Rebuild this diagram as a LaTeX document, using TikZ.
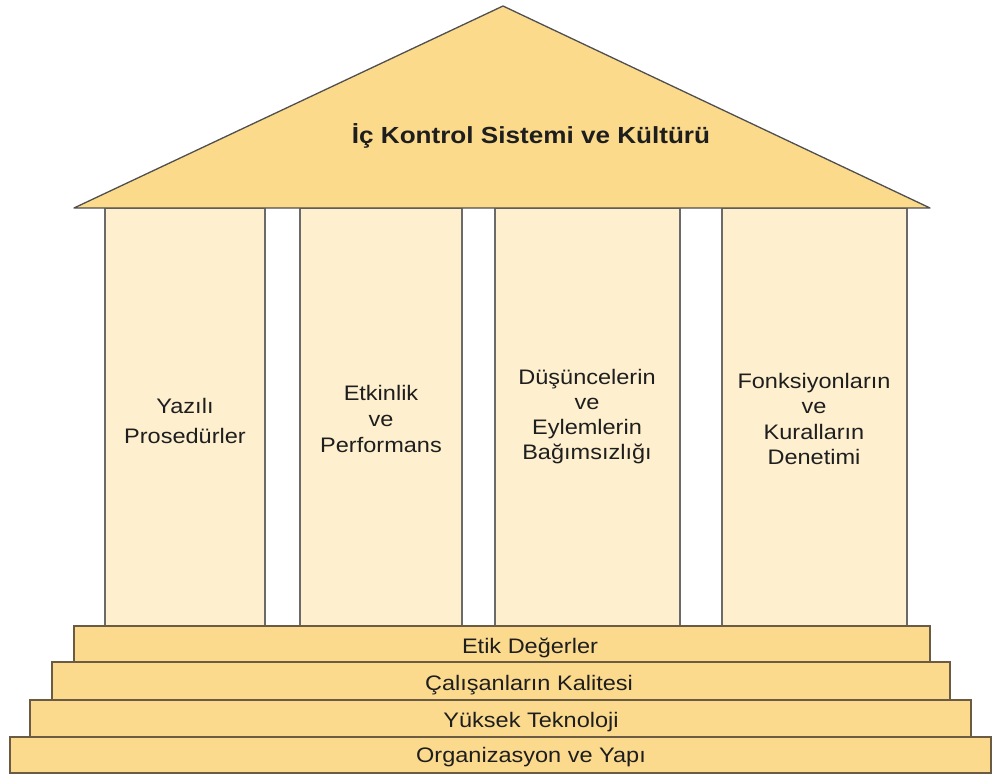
\documentclass[tikz,border=0pt]{standalone}
\usepackage{fontspec}
\setmainfont{Liberation Sans}[FakeStretch=1.12]
\definecolor{roofgold}{HTML}{FBDA8B}
\definecolor{pillarcream}{HTML}{FEF0CE}
\definecolor{stepgold}{HTML}{FBDA8E}
\definecolor{roofedge}{HTML}{4F4F4F}
\definecolor{pillaredge}{HTML}{6A6A6A}
\definecolor{stepedge}{HTML}{6B5B42}
\definecolor{inktext}{HTML}{1E1E1E}
\begin{document}
\begin{tikzpicture}[x=1pt,y=-1pt,
  roof/.style={fill=roofgold,draw=roofedge,line width=1.3pt,line join=round},
  pillar/.style={fill=pillarcream,draw=pillaredge,line width=1.6pt},
  stair/.style={fill=stepgold,draw=stepedge,line width=1.6pt},
  titletext/.style={font=\bfseries\fontsize{23.3}{28}\selectfont,text=inktext,inner sep=0pt},
  pillartext/.style={align=center,text=inktext,inner sep=0pt},
  stairtext/.style={font=\fontsize{21}{25}\selectfont,text=inktext,inner sep=0pt,anchor=base}]
\useasboundingbox (0,0) rectangle (993,776);
\fill[white] (0,0) rectangle (993,776);

% pillars
\draw[pillar] (105,208) rectangle (265,626);
\draw[pillar] (300,208) rectangle (462,626);
\draw[pillar] (495,208) rectangle (680,626);
\draw[pillar] (722,208) rectangle (907,626);

% roof
\draw[roof] (503,6) -- (930,208) -- (74,208) -- cycle;
\node[titletext,anchor=base] (title) at (531,143) {İç Kontrol Sistemi ve Kültürü};

% pillar labels
\node[pillartext,font=\fontsize{21}{30}\selectfont] (p1) at (185,421) {Yazılı\\Prosedürler};
\node[pillartext,font=\fontsize{21}{26}\selectfont] (p2) at (381,419) {Etkinlik\\ve\\Performans};
\node[pillartext,font=\fontsize{21}{25}\selectfont] (p3) at (587,417) {Düşüncelerin\\ve\\Eylemlerin\\Bağımsızlığı};
\node[pillartext,font=\fontsize{21}{25.5}\selectfont] (p4) at (814,419) {Fonksiyonların\\ve\\Kuralların\\Denetimi};

% steps
\draw[stair] (10,737) rectangle (991,773);
\draw[stair] (30,700) rectangle (971,737);
\draw[stair] (52,662) rectangle (950,700);
\draw[stair] (74,626) rectangle (930,662);

\node[stairtext] (s1) at (530,653) {Etik Değerler};
\node[stairtext] (s2) at (529,690) {Çalışanların Kalitesi};
\node[stairtext] (s3) at (531,727) {Yüksek Teknoloji};
\node[stairtext] (s4) at (531,762) {Organizasyon ve Yapı};
\end{tikzpicture}
\end{document}
